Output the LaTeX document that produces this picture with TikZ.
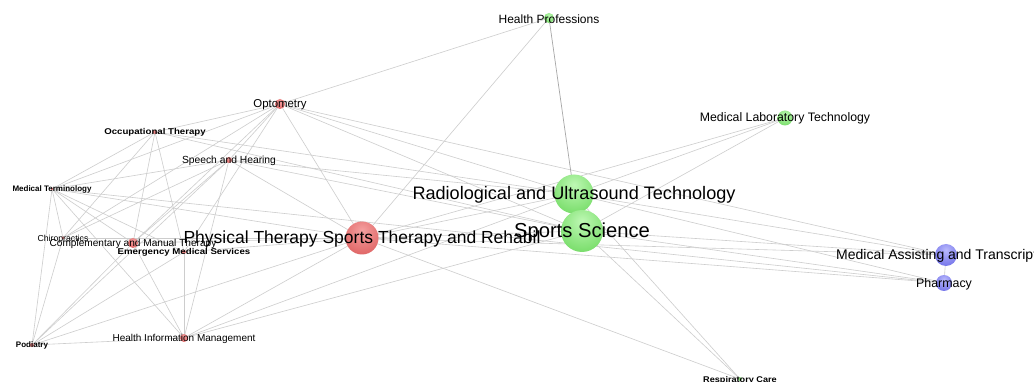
\documentclass[tikz,border=0pt]{standalone}
\usepackage{fontspec}
\setmainfont{Liberation Sans}
\usetikzlibrary{backgrounds}
\definecolor{rl}{RGB}{245,160,160}
\definecolor{rb}{RGB}{226,108,108}
\definecolor{rd}{RGB}{192,64,64}
\definecolor{gl}{RGB}{190,248,180}
\definecolor{gb}{RGB}{128,224,114}
\definecolor{gd}{RGB}{80,190,70}
\definecolor{bl}{RGB}{185,185,252}
\definecolor{bb}{RGB}{124,124,236}
\definecolor{bd}{RGB}{55,55,200}
\definecolor{edgec}{RGB}{205,205,205}
\pgfdeclareradialshading{redball}{\pgfpoint{0bp}{12bp}}{color(0bp)=(rl); color(30bp)=(rb); color(58bp)=(rd); color(100bp)=(rd)}
\pgfdeclareradialshading{greenball}{\pgfpoint{0bp}{12bp}}{color(0bp)=(gl); color(30bp)=(gb); color(58bp)=(gd); color(100bp)=(gd)}
\pgfdeclareradialshading{blueball}{\pgfpoint{0bp}{12bp}}{color(0bp)=(bl); color(30bp)=(bb); color(58bp)=(bd); color(100bp)=(bd)}
\tikzset{
  ball/.style={circle, inner sep=0pt, outer sep=0pt, minimum size=#1},
  rball/.style={ball=#1, shading=redball},
  gball/.style={ball=#1, shading=greenball},
  bball/.style={ball=#1, shading=blueball},
  lbl/.style={inner sep=0pt, outer sep=0pt, text=black, anchor=center, yshift=-0.8pt},
  edge/.style={draw=edgec, line width=0.6pt},
  dedge/.style={draw=black!35, line width=0.7pt},
}
\newcommand{\fs}[1]{\fontsize{#1}{#1}\selectfont}
\begin{document}
\begin{tikzpicture}[x=1pt,y=-1pt]
\useasboundingbox (0,0) rectangle (1034,382);
\clip (0,0) rectangle (1034,382);
% balls
\node[gball=10pt]  (HP)  at (549,18) {};
\node[rball=10pt]  (Opt) at (280,104) {};
\node[rball=4pt]   (OT)  at (155,132) {};
\node[rball=6pt]   (SH)  at (229,160) {};
\node[rball=3pt]   (MT)  at (52,189) {};
\node[rball=3pt]   (Chi) at (63,238) {};
\node[rball=10pt]  (CMT) at (133,243) {};
\node[rball=4pt]   (EMS) at (184,252) {};
\node[rball=33pt]  (PT)  at (362,238) {};
\node[gball=39pt]  (RU)  at (574,194) {};
\node[gball=42pt]  (SS)  at (582,231) {};
\node[gball=15pt]  (MLT) at (785,118) {};
\node[bball=22pt]  (MA)  at (946,255) {};
\node[bball=16pt]  (Ph)  at (944,283) {};
\node[gball=4pt]   (RC)  at (740,379) {};
\node[rball=4pt]   (Pod) at (32,345) {};
\node[rball=8pt]   (HIM) at (184,338) {};
% edges
\begin{scope}[on background layer]
\fill[white] (0,0) rectangle (1034,382);
\foreach \a/\b in {HP/Opt, HP/PT,
  Opt/OT, Opt/SH, Opt/MT, Opt/Chi, Opt/CMT, Opt/EMS, Opt/PT, Opt/RU, Opt/SS, Opt/MA,
  OT/MT, OT/Chi, OT/CMT, OT/EMS, OT/RU, OT/SS,
  SH/MT, SH/Chi, SH/CMT, SH/Pod, SH/HIM, SH/PT, SH/RU, SH/SS,
  MT/Chi, MT/Pod, MT/HIM, MT/EMS, MT/CMT, MT/PT, MT/Ph,
  Chi/Pod, Chi/PT, CMT/Pod, CMT/PT, CMT/HIM,
  EMS/HIM, EMS/PT, EMS/Pod, Pod/HIM, Pod/PT,
  HIM/PT, HIM/RU, HIM/SS,
  PT/RU, PT/SS, PT/MA, PT/Ph, PT/RC, PT/MLT,
  RU/SS, RU/MLT, RU/MA, RU/Ph, RU/RC,
  SS/MLT, SS/MA, SS/Ph, SS/RC, MA/Ph}
  \draw[edge] (\a.center) -- (\b.center);
\draw[dedge] (HP.center) -- (RU.center);
\end{scope}
% labels
\node[lbl] (lHP)  at (HP)  {\fs{12}Health Professions};
\node[lbl] (lOpt) at (Opt) {\fs{11.4}Optometry};
\node[lbl] (lOT)  at (OT)  {\scalebox{1.15}[1]{\fs{8.4}\bfseries Occupational Therapy}};
\node[lbl] (lSH)  at (SH)  {\fs{10.3}Speech and Hearing};
\node[lbl] (lMT)  at (MT)  {\fs{8}\bfseries Medical Terminology};
\node[lbl] (lChi) at (Chi) {\fs{8.7}Chiropractics};
\node[lbl] (lCMT) at (CMT) {\fs{10.1}Complementary and Manual Therapy};
\node[lbl] (lEMS) at (EMS) {\scalebox{1.15}[1]{\fs{8.4}\bfseries Emergency Medical Services}};
\node[lbl] (lPT)  at (PT)  {\fs{17.5}Physical Therapy Sports Therapy and Rehabil};
\node[lbl] (lRU)  at (RU)  {\fs{18.1}Radiological and Ultrasound Technology};
\node[lbl] (lSS)  at (SS)  {\fs{20.2}Sports Science};
\node[lbl] (lMLT) at (MLT) {\fs{12.3}Medical Laboratory Technology};
\node[lbl] (lMA)  at (MA)  {\fs{14}Medical Assisting and Transcription};
\node[lbl] (lPh)  at (Ph)  {\fs{12.4}Pharmacy};
\node[lbl] (lRC)  at ([yshift=-1pt]RC) {\scalebox{1.1}[1]{\fs{8.3}\bfseries Respiratory Care}};
\node[lbl] (lPod) at (Pod) {\fs{8}\bfseries Podiatry};
\node[lbl] (lHIM) at (HIM) {\fs{10}Health Information Management};
\end{tikzpicture}
\end{document}
